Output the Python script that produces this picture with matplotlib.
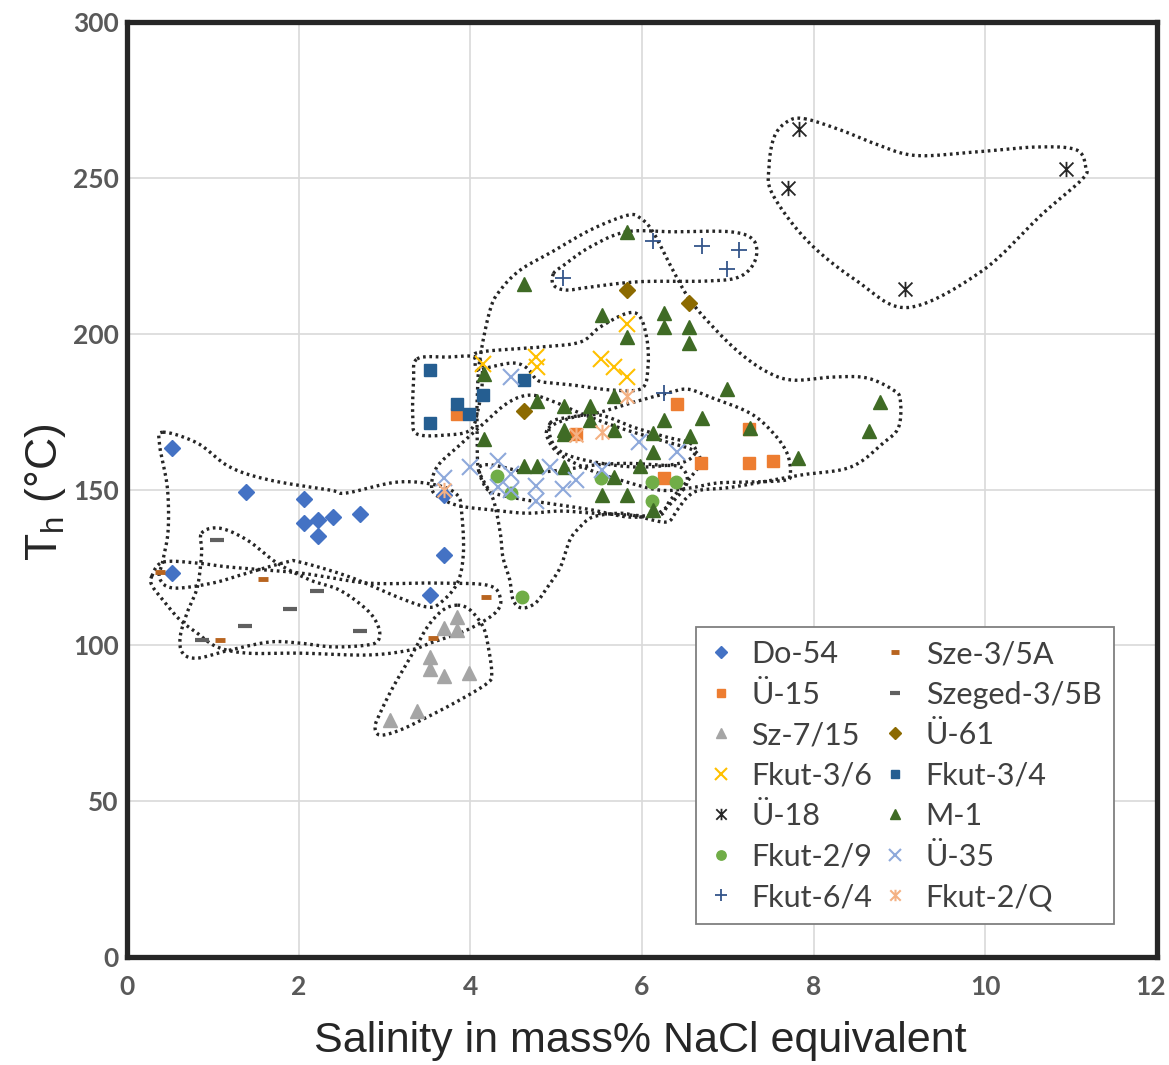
import numpy as np
import matplotlib
matplotlib.use('Agg')
import matplotlib.pyplot as plt
from matplotlib import font_manager
from matplotlib.path import Path
from matplotlib.transforms import ScaledTranslation

# --- data (salinity %, Th in C) ---
do54_x = [0.52, 1.39, 2.06, 2.06, 2.22, 2.22, 2.40, 2.72, 3.69, 3.69, 3.53, 0.53]
do54_y = [163.4, 149.3, 147.0, 139.1, 140.2, 135.2, 141.3, 142.1, 148.4, 129.0, 116.2, 123.3]
u15_x = [3.85, 5.23, 6.41, 7.25, 6.69, 7.25, 7.53, 6.26]
u15_y = [174.2, 167.7, 177.4, 169.4, 158.4, 158.4, 159.1, 153.7]
sz715_x = [3.85, 3.69, 3.85, 3.53, 3.53, 3.69, 3.99, 3.38, 3.06]
sz715_y = [109.2, 105.7, 104.9, 96.3, 92.5, 90.2, 91.0, 79.0, 76.0]
fk36_x = [4.15, 4.77, 4.78, 5.83, 5.52, 5.68, 5.83]
fk36_y = [190.2, 192.4, 189.4, 203.0, 192.0, 189.4, 186.2]
u18_x = [7.83, 7.70, 9.06, 10.94]
u18_y = [265.8, 246.7, 214.3, 252.9]
fk29_x = [4.31, 4.47, 5.52, 6.12, 6.40, 6.12, 4.60]
fk29_y = [154.5, 148.8, 153.8, 152.5, 152.5, 146.4, 115.5]
fk64_x = [6.13, 6.70, 7.13, 6.99, 5.08, 6.26]
fk64_y = [229.7, 228.0, 227.0, 220.9, 217.8, 181.0]
sze_x = [0.38, 1.59, 1.08, 3.56, 4.18]
sze_y = [123.5, 121.3, 101.6, 102.4, 115.6]
szeged_x = [1.05, 2.21, 1.90, 1.38, 0.87, 2.71]
szeged_y = [133.7, 117.3, 111.6, 106.3, 101.6, 104.6]
u61_x = [5.83, 6.55, 4.62]
u61_y = [214.0, 210.0, 175.3]
fk34_x = [3.53, 3.53, 3.85, 3.99, 4.15, 4.62]
fk34_y = [188.3, 171.5, 177.4, 174.3, 180.4, 185.1]
m1_x = [5.83, 4.62, 5.53, 6.26, 6.26, 6.55, 5.83, 6.55, 4.16, 5.68, 6.99, 4.78,
        5.09, 5.39, 5.39, 6.26, 6.70, 5.09, 5.09, 5.68, 6.13, 7.26, 6.56, 4.16,
        6.13, 4.62, 4.78, 5.09, 5.98, 5.68, 5.53, 5.83, 6.13, 8.77, 8.64, 7.82]
m1_y = [232.7, 216.1, 206.0, 206.8, 202.2, 202.2, 199.0, 197.1, 187.0, 180.1, 182.1, 178.4,
        176.9, 176.9, 172.3, 172.3, 173.0, 167.7, 169.0, 169.1, 168.0, 169.8, 167.2, 166.1,
        161.9, 157.6, 157.6, 157.3, 157.6, 154.1, 148.2, 148.2, 143.4, 178.2, 168.8, 160.2]
u35_x = [4.48, 5.97, 6.41, 3.69, 4.00, 4.32, 4.48, 4.32, 4.48, 4.77, 4.77, 4.93, 5.08, 5.23, 5.53]
u35_y = [186.2, 165.1, 161.9, 153.6, 157.3, 159.1, 155.0, 150.7, 149.8, 151.1, 146.3, 157.3, 150.3, 153.2, 156.2]
fk2q_x = [5.82, 5.53, 5.23, 3.69]
fk2q_y = [180.0, 168.3, 167.5, 149.8]

# hand drawn group outlines (salinity, Th)
loop_do54 = [(0.42, 168.4), (0.82, 164.9), (1.20, 157.2), (1.67, 153.0), (2.37, 149.8), (2.56, 148.9),
             (3.15, 152.4), (3.61, 151.4), (3.85, 148.2), (3.90, 142.4), (3.92, 129.6), (3.85, 120.0),
             (3.65, 113.6), (3.50, 112.3), (3.18, 115.2), (2.60, 121.9), (2.02, 126.7), (1.86, 126.7),
             (1.40, 123.2), (1.00, 120.0), (0.54, 118.4), (0.38, 121.6), (0.42, 127.4), (0.48, 137.0),
             (0.47, 150.8), (0.38, 164.3)]
loop_sze = [(0.29, 122.2), (0.42, 126.7), (0.82, 126.4), (1.20, 125.1), (2.02, 123.2), (2.80, 120.0),
            (3.57, 120.0), (4.20, 119.3), (4.35, 115.2), (4.29, 110.4), (3.96, 104.9), (3.57, 101.1),
            (3.30, 98.5), (2.80, 96.9), (2.02, 97.5), (1.40, 97.5), (1.05, 99.5), (0.82, 103.9),
            (0.62, 108.1), (0.42, 114.5), (0.29, 119.3)]
loop_szeged = [(0.87, 136.0), (1.08, 137.6), (1.40, 133.8), (1.75, 126.4), (2.13, 121.0), (2.48, 117.7),
               (2.80, 111.3), (2.93, 105.9), (2.93, 101.7), (2.80, 100.1), (2.40, 99.5), (2.02, 100.7),
               (1.67, 101.1), (1.20, 98.5), (0.82, 95.9), (0.65, 97.5), (0.62, 102.7), (0.70, 110.4),
               (0.82, 118.7), (0.87, 129.6)]
loop_sz715 = [(3.85, 112.9), (4.00, 111.3), (4.15, 105.9), (4.21, 99.5), (4.25, 91.1), (4.20, 87.9),
              (3.88, 82.5), (3.50, 77.0), (3.18, 72.8), (2.95, 71.2), (2.89, 73.8), (2.95, 78.3),
              (3.10, 86.6), (3.33, 97.5), (3.50, 105.9), (3.68, 111.3)]
loop_fk34 = [(3.38, 191.9), (3.73, 192.5), (4.09, 192.2), (4.14, 185.1), (4.09, 175.5), (4.00, 169.1),
             (3.73, 167.5), (3.38, 167.8), (3.33, 173.2), (3.34, 185.1)]
loop_fk36 = [(4.11, 194.1), (4.81, 195.7), (5.28, 197.3), (5.51, 202.1), (5.83, 206.6), (5.98, 205.3),
             (6.06, 197.9), (6.07, 189.3), (6.00, 182.5), (5.66, 181.9), (5.20, 183.5), (4.93, 184.2),
             (4.78, 185.1), (4.66, 189.0), (4.50, 190.6), (4.23, 189.3), (4.08, 188.3), (4.06, 191.5)]
loop_fk29 = [(4.11, 157.2), (4.27, 157.8), (4.66, 155.6), (5.05, 156.2), (5.43, 157.8), (5.83, 158.4),
             (6.21, 157.8), (6.45, 157.2), (6.53, 153.0), (6.45, 148.9), (6.29, 144.4), (6.13, 141.8),
             (5.83, 141.2), (5.43, 143.4), (5.05, 145.0), (4.66, 146.6), (4.27, 148.9), (4.15, 152.1)]
loop_mid = [(4.93, 171.3), (5.16, 173.2), (5.51, 173.9), (5.90, 170.0), (6.29, 166.8), (6.56, 164.9),
            (6.62, 161.7), (6.45, 158.5), (5.98, 157.2), (5.51, 158.5), (5.13, 161.1), (4.96, 164.9)]
loop_u15 = [(4.91, 169.7), (5.16, 172.9), (5.51, 174.8), (5.90, 178.0), (6.29, 180.9), (6.53, 182.2),
            (6.79, 179.7), (7.26, 174.5), (7.53, 168.1), (7.69, 161.7), (7.73, 155.3), (7.67, 153.0),
            (7.26, 152.4), (6.88, 152.1), (6.56, 150.5), (6.21, 149.8), (5.75, 153.0), (5.40, 156.2),
            (5.05, 161.1), (4.91, 165.9)]
loop_u35 = [(3.55, 150.5), (3.61, 157.2), (3.85, 163.6), (4.11, 170.0), (4.43, 177.7), (4.70, 180.3),
            (4.99, 178.0), (5.28, 174.5), (5.75, 169.7), (6.21, 165.9), (6.59, 162.7), (6.68, 158.8),
            (6.56, 153.7), (6.33, 146.6), (6.21, 141.8), (5.86, 141.8), (5.43, 142.4), (5.05, 143.1),
            (4.66, 142.4), (4.27, 143.4), (3.88, 144.7), (3.65, 147.3)]
loop_m1 = [(4.11, 191.5), (4.23, 207.6), (4.35, 214.0), (4.58, 220.4), (4.93, 225.9), (5.40, 233.3),
           (5.83, 238.0), (5.98, 237.1), (6.13, 232.6), (6.36, 220.4), (6.56, 210.8), (6.83, 202.1),
           (7.14, 193.8), (7.46, 187.7), (7.76, 185.1), (8.23, 186.1), (8.62, 185.8), (8.93, 181.9),
           (9.01, 178.7), (8.99, 170.0), (8.81, 164.9), (8.43, 157.2), (7.84, 154.6), (7.06, 150.8),
           (6.68, 149.8), (6.53, 147.6), (6.41, 143.4), (6.29, 139.6), (5.98, 141.2), (5.75, 142.4),
           (5.43, 141.2), (5.28, 138.0), (5.16, 133.8), (5.05, 125.1), (4.90, 118.7), (4.76, 113.6),
           (4.60, 112.0), (4.50, 114.5), (4.46, 121.0), (4.38, 128.3), (4.35, 136.0), (4.27, 146.6),
           (4.15, 153.0), (4.09, 157.2), (4.08, 168.1), (4.08, 178.7)]
loop_fk64 = [(4.97, 219.3), (5.09, 222.0), (5.40, 227.9), (5.82, 232.7), (6.37, 232.7), (7.03, 232.7),
             (7.30, 230.0), (7.32, 223.6), (7.14, 218.3), (6.76, 216.9), (5.98, 216.7), (5.40, 215.0),
             (5.12, 214.0), (4.97, 215.6)]
loop_u18 = [(7.89, 269.0), (8.32, 265.3), (8.71, 261.0), (9.18, 257.2), (9.88, 258.3), (10.59, 259.9),
            (11.06, 259.0), (11.17, 253.4), (11.13, 249.6), (10.66, 238.3), (9.96, 220.1), (9.10, 208.4),
            (8.51, 216.8), (7.93, 229.7), (7.52, 244.8), (7.48, 253.4), (7.54, 263.1), (7.69, 268.0)]


def has_font(name):
    try:
        font_manager.findfont(name, fallback_to_default=False)
        return True
    except ValueError:
        return False


def smooth_loop(pts, n=16):
    p = np.array(pts, dtype=float)
    N = len(p)
    t = np.linspace(0, 1, n, endpoint=False)[:, None]
    segs = []
    for i in range(N):
        p0, p1, p2, p3 = p[i - 1], p[i], p[(i + 1) % N], p[(i + 2) % N]
        segs.append(0.5 * (2 * p1 + (-p0 + p2) * t + (2 * p0 - 5 * p1 + 4 * p2 - p3) * t ** 2
                           + (-p0 + 3 * p1 - 3 * p2 + p3) * t ** 3))
    out = np.vstack(segs)
    return np.vstack([out, out[:1]])


# excel style "star": an x with a vertical bar through it
star = Path([(-1, -1), (1, 1), (-1, 1), (1, -1), (0, -1.1), (0, 1.1)],
            [Path.MOVETO, Path.LINETO, Path.MOVETO, Path.LINETO, Path.MOVETO, Path.LINETO])

label_font = 'Liberation Sans Narrow' if has_font('Liberation Sans Narrow') else 'Liberation Sans'
tick_font = 'Lato'

fig = plt.figure(figsize=(11.69, 10.65), dpi=100)
ax = fig.add_axes([0.1086, 0.1014, 0.8811, 0.8779])

for lp in [loop_do54, loop_sze, loop_szeged, loop_sz715, loop_fk34, loop_fk36, loop_fk29,
           loop_mid, loop_u15, loop_u35, loop_m1, loop_fk64, loop_u18]:
    c = smooth_loop(lp)
    ax.plot(c[:, 0], c[:, 1], color='#262626', lw=2.4, linestyle=(0, (0.8, 1.1)),
            dash_capstyle='butt', zorder=2)

series = [
    ('Do-54', do54_x, do54_y, dict(marker='D', color='#4472C4', ms=8)),
    ('Ü-15', u15_x, u15_y, dict(marker='s', color='#ED7D31', ms=8)),
    ('Sz-7/15', sz715_x, sz715_y, dict(marker='^', color='#A5A5A5', ms=10)),
    ('Fkut-3/6', fk36_x, fk36_y, dict(marker='x', color='#FFC000', ms=11, mew=1.5)),
    ('Ü-18', u18_x, u18_y, dict(marker=star, color='#262626', ms=11, mew=1.3)),
    ('Fkut-2/9', fk29_x, fk29_y, dict(marker='o', color='#70AD47', ms=9)),
    ('Fkut-6/4', fk64_x, fk64_y, dict(marker='+', color='#34558A', ms=12, mew=1.3)),
    ('Sze-3/5A', sze_x, sze_y, dict(marker='_', color='#B8641F', ms=7, mew=3.5)),
    ('Szeged-3/5B', szeged_x, szeged_y, dict(marker='_', color='#606060', ms=10, mew=3)),
    ('Ü-61', u61_x, u61_y, dict(marker='D', color='#8C6A00', ms=8)),
    ('Fkut-3/4', fk34_x, fk34_y, dict(marker='s', color='#255E91', ms=8)),
    ('M-1', m1_x, m1_y, dict(marker='^', color='#3F6B25', ms=10)),
    ('Ü-35', u35_x, u35_y, dict(marker='x', color='#8EA9DB', ms=12, mew=1.5)),
    ('Fkut-2/Q', fk2q_x, fk2q_y, dict(marker=star, color='#F4B183', ms=11, mew=1.5)),
]
for name, xs, ys, st in series:
    ax.plot(xs, ys, linestyle='none', label=name, zorder=3, **st)

ax.set_xlim(0, 12)
ax.set_ylim(0, 300)
ax.set_xticks(range(0, 13, 2))
ax.set_yticks(range(0, 301, 50))
ax.grid(True, color='#D9D9D9', lw=1.2, zorder=0)
ax.set_axisbelow(True)
for sp in ax.spines.values():
    sp.set_linewidth(3.8)
    sp.set_color('#262626')
ax.tick_params(length=0, labelsize=19, labelcolor='#595959')
ax.tick_params(axis='x', pad=13)
ax.tick_params(axis='y', pad=6)
for lab in ax.get_xticklabels() + ax.get_yticklabels():
    lab.set_fontfamily(tick_font)
    lab.set_fontweight('bold')
# last x label sits at the figure edge, nudge it inside
last = ax.get_xticklabels()[-1]
last.set_transform(last.get_transform() + ScaledTranslation(-6 / 100, 0, fig.dpi_scale_trans))

fig.text(0.5475, 0.0225, 'Salinity in mass% NaCl equivalent', ha='center', va='center',
         fontsize=31, family=label_font, color='#262626')
fig.text(0.0385, 0.538, r'T$_\mathregular{h}$ (°C)', ha='center', va='center', rotation=90,
         fontsize=32, family='Liberation Sans', color='#262626')

leg = ax.legend(ncol=2, loc='lower left', bbox_to_anchor=(0.552, 0.0353), borderaxespad=0,
                fancybox=False, framealpha=1, edgecolor='#7F7F7F', borderpad=0.42,
                labelspacing=0.41, handlelength=0.8, handletextpad=0.6, columnspacing=0.35,
                markerscale=0.75, prop={'family': 'Lato', 'size': 22})
leg.get_frame().set_linewidth(1.3)
for t in leg.get_texts():
    t.set_color('#404040')

fig.savefig('out.png', dpi=100)
